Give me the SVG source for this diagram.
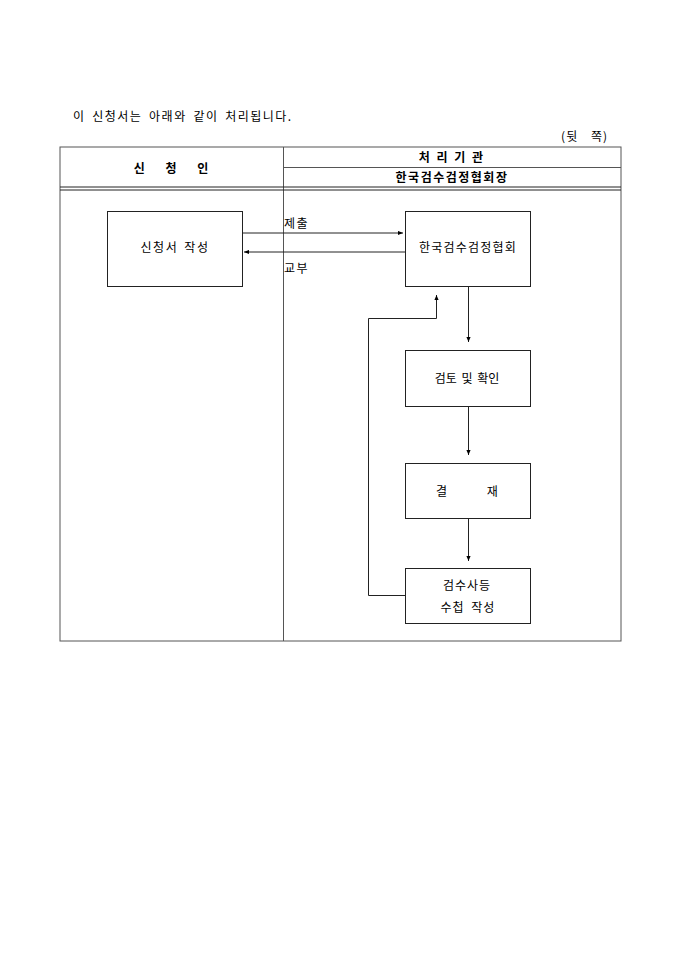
<svg xmlns="http://www.w3.org/2000/svg" width="680" height="962" viewBox="0 0 680 962">
<style>
text{font-family:"Noto Sans CJK KR","Noto Sans",sans-serif;font-size:12px;fill:#000}
.b{font-weight:bold}
.c{text-anchor:middle}
.tbl{stroke:#555;stroke-width:1;fill:none}
.box{fill:#fff;stroke:#222;stroke-width:1}
.ln{stroke:#222;stroke-width:1;fill:none}
</style>
<defs>
<marker id="ah" viewBox="0 0 6 6" refX="6" refY="3" markerWidth="5" markerHeight="5" markerUnits="userSpaceOnUse" orient="auto">
<path d="M0,0.5 L6,3 L0,5.5 Z" fill="#000"/>
</marker>
</defs>
<rect width="680" height="962" fill="#fff"/>
<text x="73" y="121" style="letter-spacing:1.5px;word-spacing:2.5px">이 신청서는 아래와 같이 처리됩니다.</text>
<text x="608" y="141" text-anchor="end" style="letter-spacing:1px;word-spacing:9px">(뒷 쪽)</text>
<g id="table">
<rect class="tbl" x="60" y="147" width="561" height="494"/>
<line class="tbl" x1="283.5" y1="147" x2="283.5" y2="641"/>
<line class="tbl" x1="283.5" y1="167.5" x2="621" y2="167.5"/>
<line class="ln" x1="60" y1="187" x2="621" y2="187"/>
<line class="ln" x1="60" y1="190" x2="621" y2="190"/>
<text class="b c" x="171" y="173" style="word-spacing:18px">신 청 인</text>
<text class="b c" x="452" y="162" style="letter-spacing:2px">처 리 기 관</text>
<text class="b c" x="452" y="182" style="letter-spacing:1.5px">한국검수검정협회장</text>
</g>
<g id="n1">
<rect class="box" x="107.5" y="211.5" width="135" height="75"/>
<text class="c" x="175" y="252" style="letter-spacing:1.5px;word-spacing:2px">신청서 작성</text>
</g>
<g id="n2">
<rect class="box" x="405.5" y="211.5" width="125" height="75"/>
<text class="c" x="468" y="252" style="letter-spacing:1.2px">한국검수검정협회</text>
</g>
<g id="n3">
<rect class="box" x="405.5" y="350.5" width="125" height="56"/>
<text class="c" x="467" y="383" style="word-spacing:2px">검토 및 확인</text>
</g>
<g id="n4">
<rect class="box" x="405.5" y="463.5" width="125" height="55"/>
<text class="c" x="467" y="496" style="word-spacing:37px">결 재</text>
</g>
<g id="n5">
<rect class="box" x="405.5" y="568.5" width="125" height="55"/>
<text class="c" x="467" y="590" style="letter-spacing:1px">검수사등</text>
<text class="c" x="468" y="612" style="letter-spacing:1px;word-spacing:3px">수첩 작성</text>
</g>
<g id="connectors">
<line class="ln" x1="242.5" y1="233" x2="403" y2="233" marker-end="url(#ah)"/>
<line class="ln" x1="405.5" y1="252" x2="244" y2="252" marker-end="url(#ah)"/>
<line class="ln" x1="468.5" y1="286.5" x2="468.5" y2="342" marker-end="url(#ah)"/>
<line class="ln" x1="468.5" y1="406.5" x2="468.5" y2="455" marker-end="url(#ah)"/>
<line class="ln" x1="468.5" y1="518.5" x2="468.5" y2="561" marker-end="url(#ah)"/>
<polyline class="ln" points="405.5,595.5 368.5,595.5 368.5,318.5 436.5,318.5 436.5,295" marker-end="url(#ah)"/>
<text x="284" y="228" style="letter-spacing:1.5px">제출</text>
<text x="284" y="273" style="letter-spacing:1.5px">교부</text>
</g>
</svg>
